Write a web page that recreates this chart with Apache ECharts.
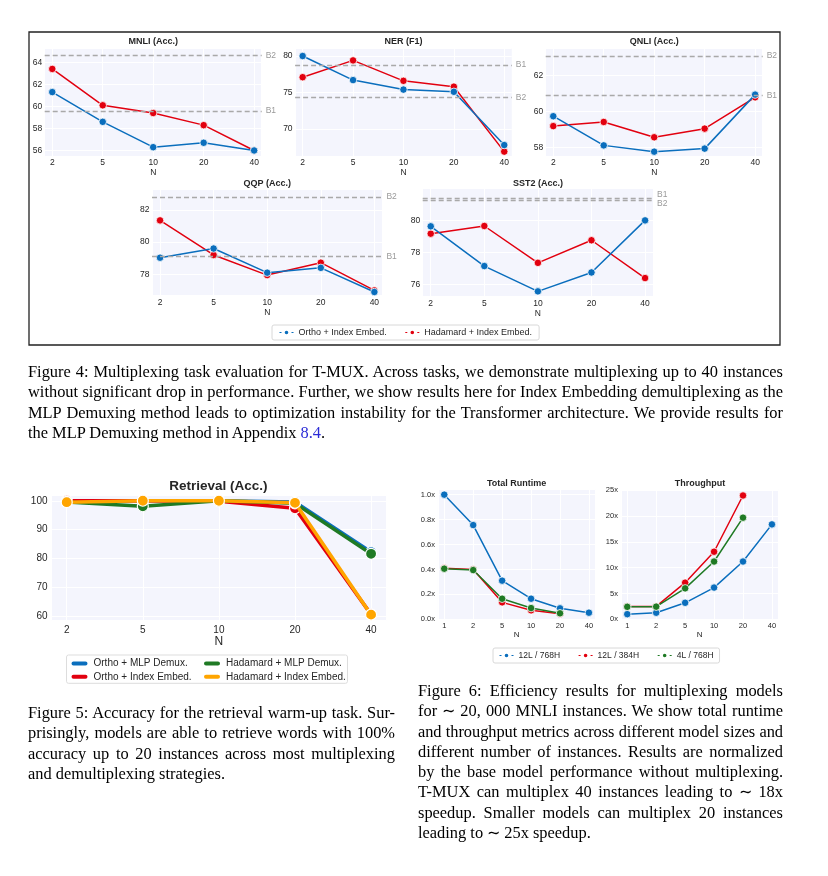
<!DOCTYPE html>
<html>
<head>
<meta charset="utf-8">
<script src="https://cdn.jsdelivr.net/npm/echarts@6/dist/echarts.min.js"></script>
<style>
html,body{margin:0;padding:0;background:#fff;}
.ch{position:absolute;left:0;top:0;width:828px;height:876px;}
.cap{position:absolute;font-family:'Liberation Serif','Times New Roman',serif;font-size:16.4px;color:#000;line-height:20.3px;}
.cap div{text-align:justify;text-align-last:justify;height:auto;}
.cap div.last{text-align-last:left;}
.lnk{color:#2b2bd6;}
</style>
</head>
<body>
<div id="c4" class="ch"></div>
<div id="c5" class="ch"></div>
<div id="c6" class="ch"></div>

<div class="cap" style="left:28px;top:362px;width:755px;">
<div>Figure 4: Multiplexing task evaluation for T-MUX. Across tasks, we demonstrate multiplexing up to 40 instances</div>
<div>without significant drop in performance. Further, we show results here for Index Embedding demultiplexing as the</div>
<div>MLP Demuxing method leads to optimization instability for the Transformer architecture. We provide results for</div>
<div class="last">the MLP Demuxing method in Appendix <span class="lnk">8.4</span>.</div>
</div>

<div class="cap" style="left:28px;top:703px;width:367px;">
<div>Figure 5: Accuracy for the retrieval warm-up task. Sur-</div>
<div>prisingly, models are able to retrieve words with 100%</div>
<div>accuracy up to 20 instances across most multiplexing</div>
<div class="last">and demultiplexing strategies.</div>
</div>

<div class="cap" style="left:418px;top:681px;width:365px;">
<div>Figure 6: Efficiency results for multiplexing models</div>
<div>for ∼ 20, 000 MNLI instances. We show total runtime</div>
<div>and throughput metrics across different model sizes and</div>
<div>different number of instances. Results are normalized</div>
<div>by the base model performance without multiplexing.</div>
<div>T-MUX can multiplex 40 instances leading to ∼ 18x</div>
<div>speedup. Smaller models can multiplex 20 instances</div>
<div class="last">leading to ∼ 25x speedup.</div>
</div>

<script>
// keep each caption line on one line
document.querySelectorAll('.cap div').forEach(function (d) {
  let ls = 0;
  while (d.offsetHeight > 25 && ls > -1.5) {
    ls -= 0.05;
    d.style.letterSpacing = ls.toFixed(2) + 'px';
  }
});

// ---------------- DATA ----------------
// Figure 4
const nTop = ['2', '5', '10', '20', '40'];
const mnliOrtho = [61.3, 58.6, 56.3, 56.7, 56.0];
const mnliHad   = [63.4, 60.1, 59.4, 58.3, 56.0];
const mnliB1 = 59.6, mnliB2 = 64.6;
const nerOrtho = [80.0, 76.7, 75.4, 75.1, 67.8];
const nerHad   = [77.1, 79.4, 76.6, 75.8, 66.9];
const nerB1 = 78.8, nerB2 = 74.3;
const qnliOrtho = [59.75, 58.13, 57.78, 57.95, 60.95];
const qnliHad   = [59.2, 59.43, 58.58, 59.06, 60.8];
const qnliB1 = 60.9, qnliB2 = 63.1;
const qqpOrtho = [79.03, 79.6, 78.1, 78.4, 76.9];
const qqpHad   = [81.35, 79.2, 77.95, 78.72, 77.0];
const qqpB1 = 79.1, qqpB2 = 82.8;
const sst2Ortho = [79.63, 77.15, 75.57, 76.75, 80.0];
const sst2Had   = [79.17, 79.65, 77.35, 78.76, 76.4];
const sst2B1 = 81.4, sst2B2 = 81.28;
const topNames = ['Ortho + Index Embed.', 'Hadamard + Index Embed.'];

// Figure 5
const nRet = ['2', '5', '10', '20', '40'];
const retOrthoMlp = [100, 100, 100, 99.6, 82.2];
const retOrthoIdx = [100, 100, 99.8, 97.4, 60.6];
const retHadMlp   = [99.6, 98.1, 100, 99.1, 81.6];
const retHadIdx   = [99.5, 100, 100, 99.3, 60.5];
const retNames = ['Ortho + MLP Demux.', 'Ortho + Index Embed.', 'Hadamard + MLP Demux.', 'Hadamard + Index Embed.'];

// Figure 6
const nEff = ['1', '2', '5', '10', '20', '40'];
const rt12L768 = [1.0, 0.756, 0.31, 0.165, 0.088, 0.053];
const rt12L384 = [0.41, 0.40, 0.136, 0.072, 0.045];
const rt4L768  = [0.406, 0.395, 0.165, 0.09, 0.048];
const tp12L768 = [1.0, 1.27, 3.2, 6.15, 11.2, 18.4];
const tp12L384 = [2.5, 2.5, 7.1, 13.1, 24.0];
const tp4L768  = [2.42, 2.45, 6.0, 11.2, 19.7];
const effNames = ['12L / 768H', '12L / 384H', '4L / 768H'];

// ---------------- STYLE ----------------
const FONT = "'Liberation Sans', Arial, sans-serif";
const BLUE = '#0a6ebd', RED = '#e2000f', GREEN = '#1f7a24', ORANGE = '#ffa500';
const BG = '#f4f5fd';
const TXT = '#262626';

function isMult(v, step) {
  const r = v / step;
  return Math.abs(r - Math.round(r)) < 1e-6;
}
function xAxisCfg(gi, labels, min, max, fs, nameFs, margin, nameGap) {
  return {
    type: 'value', gridIndex: gi, min: min, max: max, minInterval: 1, maxInterval: 1,
    axisLine: {show: false}, axisTick: {show: false},
    splitLine: {show: true, lineStyle: {color: '#ffffff', width: 1}},
    axisLabel: {fontSize: fs, color: TXT, fontFamily: FONT, margin: margin,
      formatter: v => isMult(v, 1) ? (labels[Math.round(v)] || '') : ''},
    name: 'N', nameLocation: 'middle', nameGap: nameGap,
    nameTextStyle: {fontSize: nameFs, color: TXT, fontFamily: FONT}
  };
}
function yAxisCfg(gi, min, max, step, fs, margin, fmt) {
  return {
    type: 'value', gridIndex: gi, min: min, max: max, minInterval: step, maxInterval: step,
    axisLine: {show: false}, axisTick: {show: false},
    splitLine: {show: true, lineStyle: {color: '#ffffff', width: 1}},
    axisLabel: {fontSize: fs, color: TXT, fontFamily: FONT, margin: margin,
      formatter: v => isMult(v, step) ? fmt(v) : ''}
  };
}
function lineS(name, arr, gi, color, size, width, z) {
  return {
    type: 'line', name: name, xAxisIndex: gi, yAxisIndex: gi,
    data: arr.map((v, i) => [i, v]),
    symbol: 'circle', symbolSize: size, z: z, silent: true,
    lineStyle: {color: color, width: width},
    itemStyle: {color: color, borderColor: '#ffffff', borderWidth: size > 9 ? 1.2 : 0.8}
  };
}
function titleText(text, x, y, fs) {
  return {type: 'text', x: x, y: y, silent: true,
    style: {text: text, fill: TXT, font: 'bold ' + fs + 'px ' + FONT, textAlign: 'center', textVerticalAlign: 'middle'}};
}

// ---------------- FIGURE 4 ----------------
const topPanels = [
  {title: 'MNLI (Acc.)', o: mnliOrtho, h: mnliHad, b1: mnliB1, b2: mnliB2, left: 44.7, top: 48, width: 217, height: 108, ymin: 55.5, ymax: 65.3, step: 2, ty: 42},
  {title: 'NER (F1)', o: nerOrtho, h: nerHad, b1: nerB1, b2: nerB2, left: 295.1, top: 48, width: 216.7, height: 108, ymin: 66.3, ymax: 81.1, step: 5, ty: 42},
  {title: 'QNLI (Acc.)', o: qnliOrtho, h: qnliHad, b1: qnliB1, b2: qnliB2, left: 545.7, top: 48, width: 217, height: 108, ymin: 57.54, ymax: 63.54, step: 2, ty: 42},
  {title: 'QQP (Acc.)', o: qqpOrtho, h: qqpHad, b1: qqpB1, b2: qqpB2, left: 152, top: 189, width: 230.4, height: 106.7, ymin: 76.67, ymax: 83.3, step: 2, ty: 183.3},
  {title: 'SST2 (Acc.)', o: sst2Ortho, h: sst2Had, b1: sst2B1, b2: sst2B2, left: 422.7, top: 188.5, width: 230.4, height: 108, ymin: 75.25, ymax: 81.99, step: 2, ty: 183.3, split: true}
];

(function () {
  const grid = [], xAxis = [], yAxis = [], series = [];
  const graphic = [{type: 'rect', shape: {x: 29, y: 32, width: 751, height: 313}, silent: true, z: -10,
    style: {fill: 'none', stroke: '#222', lineWidth: 1.3}}];
  topPanels.forEach((p, i) => {
    grid.push({left: p.left, top: p.top, width: p.width, height: p.height, show: true, backgroundColor: BG, borderWidth: 0});
    xAxis.push(xAxisCfg(i, nTop, -0.15, 4.15, 8.5, 8.5, 2.5, 10.5));
    yAxis.push(yAxisCfg(i, p.ymin, p.ymax, p.step, 8.5, 2.5, v => String(Math.round(v))));
    series.push({
      type: 'line', name: '_base' + i, xAxisIndex: i, yAxisIndex: i, data: [], z: 1, silent: true,
      markLine: {
        silent: true, symbol: ['none', 'none'], animation: false,
        lineStyle: {color: '#a9a9a9', type: [5, 3], width: 1.3},
        label: {show: true, position: 'end', formatter: '{b}', color: '#9a9a9a', fontSize: 8.5, fontFamily: FONT, distance: 4},
        data: [
          {name: 'B1', yAxis: p.b1, label: p.split ? {offset: [0, -3]} : {}},
          {name: 'B2', yAxis: p.b2, label: p.split ? {offset: [0, 4]} : {}}
        ]
      }
    });
    series.push(lineS(topNames[1], p.h, i, RED, 7.5, 1.5, 2));
    series.push(lineS(topNames[0], p.o, i, BLUE, 7.5, 1.5, 3));
    graphic.push(titleText(p.title, p.left + p.width / 2, p.ty, 9));
  });
  const c = echarts.init(document.getElementById('c4'), null, {renderer: 'canvas'});
  c.setOption({
    animation: false, grid, xAxis, yAxis, series, graphic,
    legend: {
      data: [
        {name: topNames[0], itemStyle: {color: BLUE}},
        {name: topNames[1], itemStyle: {color: RED}}
      ],
      left: 272, top: 325, padding: [3, 7, 3, 7], itemGap: 18, itemWidth: 14, itemHeight: 7,
      borderColor: '#d8d8d8', borderWidth: 1, borderRadius: 2, backgroundColor: '#ffffff',
      lineStyle: {type: [2, 2], width: 1},
      textStyle: {fontSize: 9, color: TXT, fontFamily: FONT}
    }
  });
})();

// ---------------- FIGURE 5 ----------------
(function () {
  const c = echarts.init(document.getElementById('c5'), null, {renderer: 'canvas'});
  const capsule = 'path://M3,0 L15,0 A3,3 0 0 1 15,6 L3,6 A3,3 0 0 1 3,0 Z';
  c.setOption({
    animation: false,
    grid: [{left: 51.5, top: 495, width: 334.8, height: 125.7, show: true, backgroundColor: BG, borderWidth: 0}],
    xAxis: [xAxisCfg(0, nRet, -0.2, 4.2, 10, 12, 4.3, 15)],
    yAxis: [yAxisCfg(0, 58.4, 102, 10, 10, 4, v => String(Math.round(v)))],
    series: [
      lineS(retNames[0], retOrthoMlp, 0, BLUE, 11, 3.5, 2),
      lineS(retNames[1], retOrthoIdx, 0, RED, 11, 3.5, 3),
      lineS(retNames[2], retHadMlp, 0, GREEN, 11, 3.5, 4),
      lineS(retNames[3], retHadIdx, 0, ORANGE, 11, 3.5, 5)
    ],
    graphic: [
      titleText('Retrieval (Acc.)', 218.3, 486.7, 13.5),
      {type: 'rect', shape: {x: 66.5, y: 655, width: 281, height: 28.3, r: 2}, silent: true, z: -10,
        style: {fill: '#ffffff', stroke: '#dddddd', lineWidth: 1}}
    ],
    legend: [
      {data: [retNames[0], retNames[1]], orient: 'vertical', left: 69.5, top: 658.5, padding: 0, itemGap: 3.3,
        icon: capsule, itemWidth: 18, itemHeight: 6, textStyle: {fontSize: 10, color: TXT, fontFamily: FONT}},
      {data: [retNames[2], retNames[3]], orient: 'vertical', left: 202, top: 658.5, padding: 0, itemGap: 3.3,
        icon: capsule, itemWidth: 18, itemHeight: 6, textStyle: {fontSize: 10, color: TXT, fontFamily: FONT}}
    ]
  });
})();

// ---------------- FIGURE 6 ----------------
(function () {
  const c = echarts.init(document.getElementById('c6'), null, {renderer: 'canvas'});
  c.setOption({
    animation: false,
    grid: [
      {left: 437.9, top: 489.3, width: 157.4, height: 130, show: true, backgroundColor: BG, borderWidth: 0},
      {left: 620.9, top: 489.3, width: 157.4, height: 130, show: true, backgroundColor: BG, borderWidth: 0}
    ],
    xAxis: [
      xAxisCfg(0, nEff, -0.22, 5.22, 7.5, 8, 3, 10.7),
      xAxisCfg(1, nEff, -0.22, 5.22, 7.5, 8, 3, 10.7)
    ],
    yAxis: [
      yAxisCfg(0, 0, 1.043, 0.2, 7.5, 3, v => v.toFixed(1) + 'x'),
      yAxisCfg(1, 0, 25.2, 5, 7.5, 3, v => Math.round(v) + 'x')
    ],
    series: [
      lineS(effNames[0], rt12L768, 0, BLUE, 7.5, 1.5, 2),
      lineS(effNames[1], rt12L384, 0, RED, 7.5, 1.5, 3),
      lineS(effNames[2], rt4L768, 0, GREEN, 7.5, 1.5, 4),
      lineS(effNames[0], tp12L768, 1, BLUE, 7.5, 1.5, 2),
      lineS(effNames[1], tp12L384, 1, RED, 7.5, 1.5, 3),
      lineS(effNames[2], tp4L768, 1, GREEN, 7.5, 1.5, 4)
    ],
    graphic: [
      titleText('Total Runtime', 516.7, 484, 9),
      titleText('Throughput', 700, 484, 9)
    ],
    legend: {
      data: effNames, left: 493, top: 648, padding: [3, 6, 3, 6], itemGap: 18, itemWidth: 14, itemHeight: 7,
      borderColor: '#d8d8d8', borderWidth: 1, borderRadius: 2, backgroundColor: '#ffffff',
      lineStyle: {type: [2, 2], width: 1},
      textStyle: {fontSize: 8.5, color: TXT, fontFamily: FONT}
    }
  });
})();
</script>
</body>
</html>
